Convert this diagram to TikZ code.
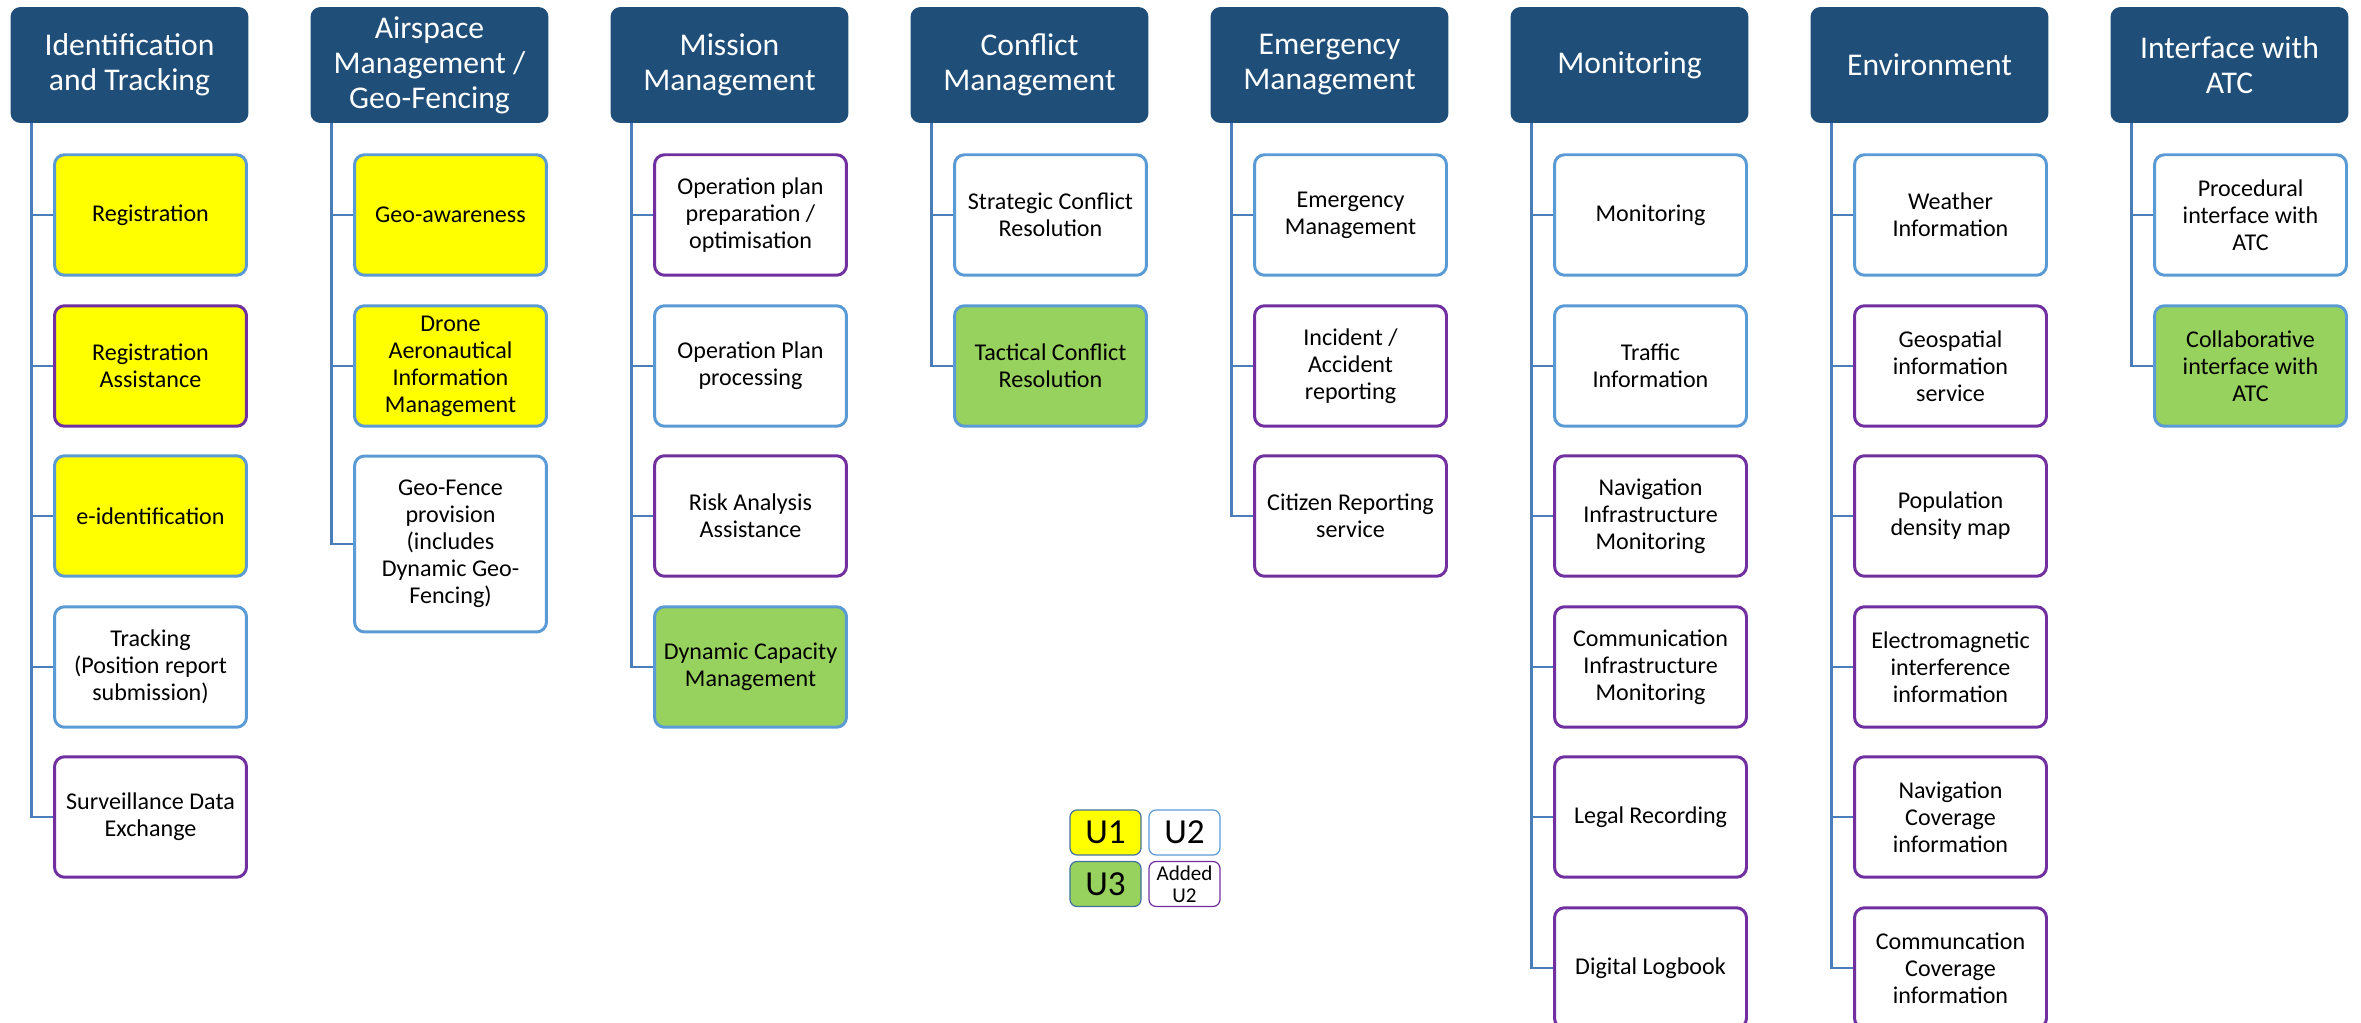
\documentclass[tikz,border=0pt]{standalone}
\usepackage{fontspec}
\setmainfont{Carlito}
\usepackage{tikz}
\usetikzlibrary{positioning}

\definecolor{headblue}{HTML}{1F4E79}
\definecolor{linkblue}{HTML}{4A7EBB}
\definecolor{edgeblue}{HTML}{5B9BD5}
\definecolor{edgepurple}{HTML}{7030A0}
\definecolor{fillyellow}{HTML}{FFFF00}
\definecolor{fillgreen}{HTML}{98D25E}
\definecolor{keyblue}{HTML}{41719C}

\begin{document}
\begin{tikzpicture}[x=0.02cm,y=-0.02cm]
    \useasboundingbox (0,0) rectangle (2361,1023);
    \tikzset{head/.style={fill = headblue, text = white,
                rounded corners = 0.2cm,
                minimum width = 4.76cm, minimum height = 2.32cm,
                inner sep = 0pt, align = center,
                font = \fontsize{18}{20}\selectfont},
             task/.style={draw = edgeblue, fill = white,
                line width = 1.7pt, rounded corners = 0.2cm,
                minimum width = 3.84cm, minimum height = 2.41cm,
                inner xsep = 1pt, align = center,
                font = \fontsize{13.7}{15.4}\selectfont},
             added/.style={task, draw = edgepurple},
             uone/.style={fill = fillyellow},
             uthree/.style={fill = fillgreen},
             branch/.style={draw = linkblue, line width = 1.7pt},
             key/.style={draw = keyblue, line width = 0.7pt,
                rounded corners = 0.14cm,
                minimum width = 1.42cm, minimum height = 0.9cm,
                inner sep = 0pt, align = center,
                font = \fontsize{20}{22}\selectfont}}
    % headers
    \node[head] (IT) at (129.5,65) {Identification\\and Tracking};
    \node[head] (AM) at (429.5,65) {Airspace\\Management /\\Geo-Fencing};
    \node[head] (MM) at (729.5,65) {Mission\\Management};
    \node[head] (CM) at (1029.5,65) {Conflict\\Management};
    \node[head] (EM) at (1329.5,65) {Emergency\\Management};
    \node[head] (MO) at (1629.5,65) {Monitoring};
    \node[head] (EN) at (1929.5,65) {Environment};
    \node[head] (IA) at (2229.5,65) {Interface with\\ATC};
    % identification and tracking
    \node[task, uone] (IT1) at (150.5,215) {Registration};
    \node[added, uone] (IT2) at (150.5,366) {Registration\\Assistance};
    \node[task, uone] (IT3) at (150.5,516) {e-identification};
    \node[task] (IT4) at (150.5,667) {Tracking\\(Position report\\submission)};
    \node[added] (IT5) at (150.5,817) {Surveillance Data\\Exchange};
    % airspace management
    \node[task, uone] (AM1) at (450.5,215) {Geo-awareness};
    \node[task, uone] (AM2) at (450.5,366) {Drone\\Aeronautical\\Information\\Management};
    \node[task, minimum height = 3.52cm] (AM3) at (450.5,544)
        {Geo-Fence\\provision\\(includes\\Dynamic Geo-\\Fencing)};
    % mission management
    \node[added] (MM1) at (750.5,215) {Operation plan\\preparation /\\optimisation};
    \node[task] (MM2) at (750.5,366) {Operation Plan\\processing};
    \node[added] (MM3) at (750.5,516) {Risk Analysis\\Assistance};
    \node[task, uthree] (MM4) at (750.5,667) {Dynamic Capacity\\Management};
    % conflict management
    \node[task] (CM1) at (1050.5,215) {Strategic Conflict\\Resolution};
    \node[task, uthree] (CM2) at (1050.5,366) {Tactical Conflict\\Resolution};
    % emergency management
    \node[task] (EM1) at (1350.5,215) {Emergency\\Management};
    \node[added] (EM2) at (1350.5,366) {Incident /\\Accident\\reporting};
    \node[added] (EM3) at (1350.5,516) {Citizen Reporting\\service};
    % monitoring
    \node[task] (MO1) at (1650.5,215) {Monitoring};
    \node[task] (MO2) at (1650.5,366) {Traffic\\Information};
    \node[added] (MO3) at (1650.5,516) {Navigation\\Infrastructure\\Monitoring};
    \node[added] (MO4) at (1650.5,667) {Communication\\Infrastructure\\Monitoring};
    \node[added] (MO5) at (1650.5,817) {Legal Recording};
    \node[added] (MO6) at (1650.5,968) {Digital Logbook};
    % environment
    \node[task] (EN1) at (1950.5,215) {Weather\\Information};
    \node[added] (EN2) at (1950.5,366) {Geospatial\\information\\service};
    \node[added] (EN3) at (1950.5,516) {Population\\density map};
    \node[added] (EN4) at (1950.5,667) {Electromagnetic\\interference\\information};
    \node[added] (EN5) at (1950.5,817) {Navigation\\Coverage\\information};
    \node[added] (EN6) at (1950.5,968) {Communcation\\Coverage\\information};
    % interface with ATC
    \node[task] (IA1) at (2250.5,215) {Procedural\\interface with\\ATC};
    \node[task, uthree] (IA2) at (2250.5,366) {Collaborative\\interface with\\ATC};
    % branches
    \draw[branch] (IT.south west) ++(21,0) |- (IT1.west);
    \draw[branch] (IT.south west) ++(21,0) |- (IT2.west);
    \draw[branch] (IT.south west) ++(21,0) |- (IT3.west);
    \draw[branch] (IT.south west) ++(21,0) |- (IT4.west);
    \draw[branch] (IT.south west) ++(21,0) |- (IT5.west);
    \draw[branch] (AM.south west) ++(21,0) |- (AM1.west);
    \draw[branch] (AM.south west) ++(21,0) |- (AM2.west);
    \draw[branch] (AM.south west) ++(21,0) |- (AM3.west);
    \draw[branch] (MM.south west) ++(21,0) |- (MM1.west);
    \draw[branch] (MM.south west) ++(21,0) |- (MM2.west);
    \draw[branch] (MM.south west) ++(21,0) |- (MM3.west);
    \draw[branch] (MM.south west) ++(21,0) |- (MM4.west);
    \draw[branch] (CM.south west) ++(21,0) |- (CM1.west);
    \draw[branch] (CM.south west) ++(21,0) |- (CM2.west);
    \draw[branch] (EM.south west) ++(21,0) |- (EM1.west);
    \draw[branch] (EM.south west) ++(21,0) |- (EM2.west);
    \draw[branch] (EM.south west) ++(21,0) |- (EM3.west);
    \draw[branch] (MO.south west) ++(21,0) |- (MO1.west);
    \draw[branch] (MO.south west) ++(21,0) |- (MO2.west);
    \draw[branch] (MO.south west) ++(21,0) |- (MO3.west);
    \draw[branch] (MO.south west) ++(21,0) |- (MO4.west);
    \draw[branch] (MO.south west) ++(21,0) |- (MO5.west);
    \draw[branch] (MO.south west) ++(21,0) |- (MO6.west);
    \draw[branch] (EN.south west) ++(21,0) |- (EN1.west);
    \draw[branch] (EN.south west) ++(21,0) |- (EN2.west);
    \draw[branch] (EN.south west) ++(21,0) |- (EN3.west);
    \draw[branch] (EN.south west) ++(21,0) |- (EN4.west);
    \draw[branch] (EN.south west) ++(21,0) |- (EN5.west);
    \draw[branch] (EN.south west) ++(21,0) |- (EN6.west);
    \draw[branch] (IA.south west) ++(21,0) |- (IA1.west);
    \draw[branch] (IA.south west) ++(21,0) |- (IA2.west);
    % legend
    \node[key, fill = fillyellow] (U1) at (1105.5,832.5) {U1};
    \node[key, draw = edgeblue] (U2) at (1184.5,832.5) {U2};
    \node[key, fill = fillgreen] (U3) at (1105.5,884) {U3};
    \node[key, draw = edgepurple, font = \fontsize{12}{12.3}\selectfont]
        (A2) at (1184.5,884) {Added\\U2};
\end{tikzpicture}
\end{document}
